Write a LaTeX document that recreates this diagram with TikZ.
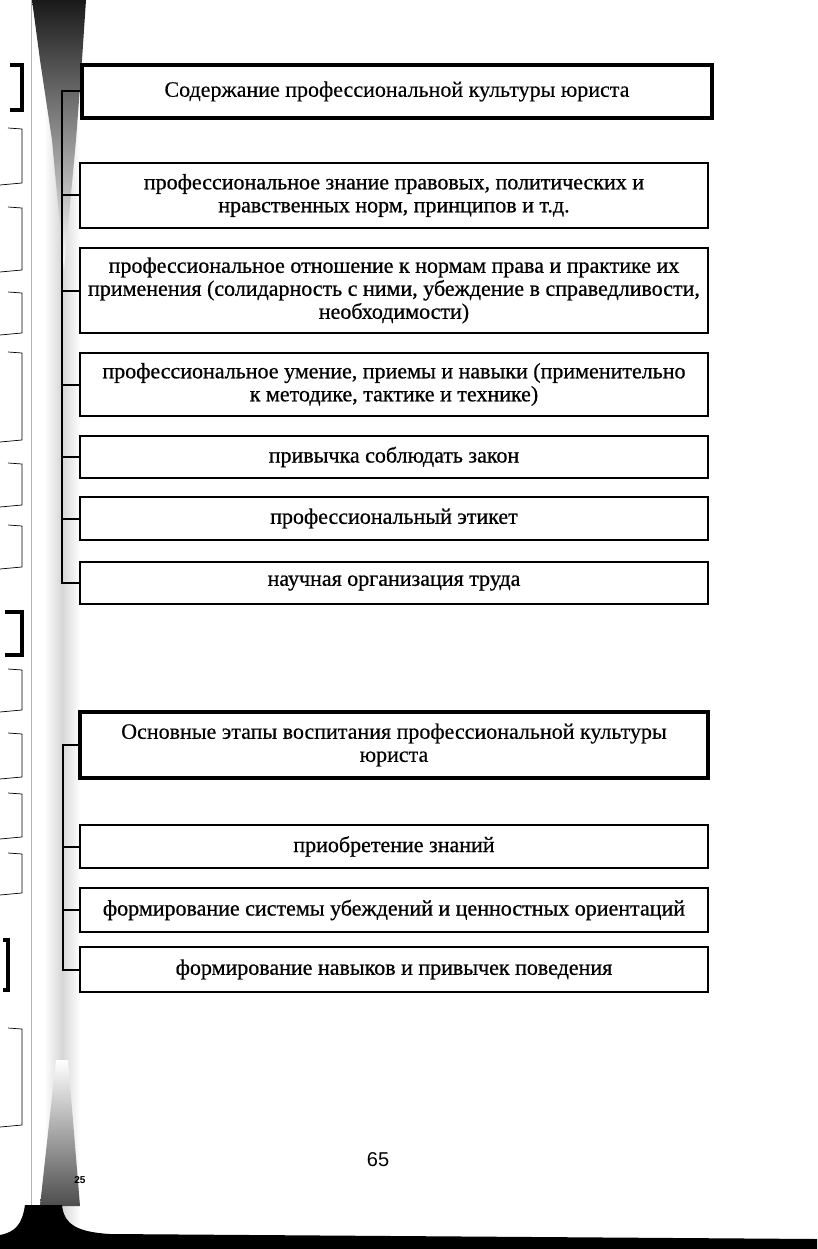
\documentclass[tikz,border=0pt]{standalone}
\usepackage{fontspec}
\setmainfont{Liberation Serif}
\newfontfamily\itemfam{Liberation Serif}[FakeBold=0.7]
\newfontfamily\headfam{Liberation Serif}[FakeBold=0.3]
\newfontfamily\pgfont{Liberation Sans}
\newcommand\itemfont{\itemfam\fontsize{22}{23}\selectfont}
\newcommand\headfont{\headfam\fontsize{22}{23}\selectfont}
\begin{document}
\begin{tikzpicture}[x=1pt,y=-1pt,
  box/.style={draw, line width=1.5pt, minimum width=628pt, inner sep=0pt, align=center, font=\itemfont},
  headbox/.style={box, line width=4pt, font=\headfont},
  conn/.style={line width=2pt},
  margin/.style={line width=0.7pt},
  marginthick/.style={line width=3.5pt}]
\useasboundingbox (0,0) rectangle (817,1249);
% binding shadow
\shade[left color=white, right color=white, middle color=black!16] (44,0) rectangle (80,1249);
\shade[top color=black!90, bottom color=white] (32,0) -- (86,0) -- (82,60) -- (76,140) -- (64,270) -- (52,140) -- (40,60) -- cycle;
\shade[top color=white, bottom color=black!70] (56,1060) -- (68,1060) -- (80,1206) -- (40,1206) -- cycle;
\draw[gray!60, line width=0.6pt] (31,0) -- (31,1249);
% bottom dark edge
\fill[black] (0,1249) -- (0,1235) .. controls (15,1232) and (22,1225) .. (25,1205) -- (62,1205) .. controls (64,1225) and (78,1232) .. (110,1234) -- (817,1239) -- (817,1249) -- cycle;
% facing-page marks
\draw[marginthick] (10,65) -- (22,65) -- (22,110) -- (10,110);
\foreach \t/\b in {128/183,207/270,292/333,352/440,463/505,525/567,669/710,733/777,793/837,853/893,1028/1125}
  \draw[margin] (8,\t) -- (22,\t+1) -- (22,\b) -- (0,\b+2);
\draw[marginthick] (5,612) -- (22,612) -- (22,655) -- (5,655);
\draw[marginthick] (3,940) -- (8,940) -- (8,990) -- (3,990);
% first group
\node[headbox, minimum width=630pt, minimum height=53pt] (b1) at (397,91.5) {Содержание профессиональной культуры юриста};
\node[box, minimum height=65pt] (b2) at (394,195.5) {профессиональное знание правовых, политических и\\нравственных норм, принципов и т.д.};
\node[box, minimum height=85pt] (b3) at (394,290.5) {профессиональное отношение к нормам права и практике их\\применения (солидарность с ними, убеждение в справедливости,\\необходимости)};
\node[box, minimum height=63pt] (b4) at (394,384.5) {профессиональное умение, приемы и навыки (применительно\\к методике, тактике и технике)};
\node[box, minimum height=42pt] (b5) at (394,457) {привычка соблюдать закон};
\node[box, minimum height=43pt] (b6) at (394,518.5) {профессиональный этикет};
\node[box, minimum height=42pt] (b7) at (394,583) {научная организация труда};
\coordinate (ta) at (62,0);
\draw[conn] (b1.west) -- (b1.west -| ta) -- (b7.west -| ta) -- (b7.west);
\foreach \n in {b2,b3,b4,b5,b6} \draw[conn] (\n.west) -- (\n.west -| ta);
% second group
\node[headbox, minimum height=66pt] (b8) at (394,745) {Основные этапы воспитания профессиональной культуры\\юриста};
\node[box, minimum height=43pt] (b9) at (394,846.5) {приобретение знаний};
\node[box, minimum height=44pt] (b10) at (394,910) {формирование системы убеждений и ценностных ориентаций};
\node[box, minimum height=45pt] (b11) at (394,969.5) {формирование навыков и привычек поведения};
\coordinate (tb) at (63,0);
\draw[conn] (b8.west) -- (b8.west -| tb) -- (b11.west -| tb) -- (b11.west);
\foreach \n in {b9,b10} \draw[conn] (\n.west) -- (\n.west -| tb);
% page number and signature mark
\node[font=\pgfont\fontsize{20}{20}\selectfont] (pg) at (378,1160) {65};
\node[font=\pgfont\bfseries\fontsize{10}{10}\selectfont] (sig) at (80,1180) {25};
\end{tikzpicture}
\end{document}
